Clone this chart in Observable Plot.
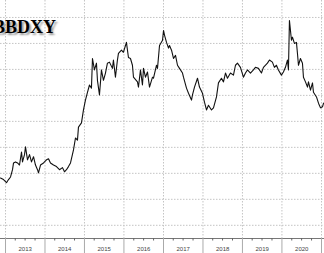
<!DOCTYPE html>
<html><head><meta charset="utf-8">
<script src="https://cdn.jsdelivr.net/npm/d3@7"></script>
<script src="https://cdn.jsdelivr.net/npm/@observablehq/plot@0.6"></script>
<style>
html,body{margin:0;padding:0;background:#fff;overflow:hidden;}
#wrap{position:relative;width:324px;height:253px;}
#title{position:absolute;left:-7px;top:17px;font-family:"Liberation Serif","Times New Roman",serif;font-weight:bold;font-size:18px;color:#000;text-shadow:2px 2px 2px #999;}
</style></head>
<body><div id="wrap"><div id="chart"></div><div id="title">BBDXY</div></div>
<script>
const title = "BBDXY";
const years = [2013,2014,2015,2016,2017,2018,2019,2020];
// decimal-year timestamps
const t = [2012.873,2012.949,2013.025,2013.076,2013.127,2013.177,2013.203,2013.253,2013.304,2013.354,2013.405,2013.430,2013.481,2013.506,2013.557,2013.608,2013.658,2013.709,2013.759,2013.810,2013.835,2013.886,2013.962,2014.038,2014.089,2014.139,2014.215,2014.291,2014.367,2014.443,2014.494,2014.544,2014.595,2014.646,2014.722,2014.772,2014.823,2014.848,2014.924,2014.975,2015.025,2015.076,2015.127,2015.177,2015.203,2015.253,2015.304,2015.329,2015.380,2015.430,2015.481,2015.532,2015.582,2015.633,2015.709,2015.734,2015.785,2015.835,2015.861,2015.937,2015.987,2016.063,2016.114,2016.165,2016.215,2016.241,2016.342,2016.367,2016.418,2016.468,2016.494,2016.544,2016.595,2016.646,2016.722,2016.747,2016.823,2016.848,2016.899,2016.975,2017.000,2017.025,2017.076,2017.127,2017.152,2017.203,2017.253,2017.304,2017.354,2017.405,2017.481,2017.506,2017.582,2017.633,2017.709,2017.734,2017.785,2017.861,2017.911,2017.987,2018.038,2018.089,2018.139,2018.215,2018.266,2018.342,2018.392,2018.468,2018.519,2018.570,2018.620,2018.696,2018.772,2018.823,2018.873,2018.949,2019.025,2019.076,2019.127,2019.203,2019.278,2019.329,2019.405,2019.481,2019.532,2019.633,2019.684,2019.759,2019.810,2019.861,2019.911,2019.987,2020.038,2020.089,2020.139,2020.165,2020.190,2020.241,2020.266,2020.316,2020.367,2020.392,2020.418,2020.468,2020.519,2020.544,2020.595,2020.646,2020.671,2020.722,2020.772,2020.797,2020.873,2020.924,2020.975,2021.025,2021.051];
const v = [991,988,982,988,993,1007,1020,1022,1020,1016,1041,1022,1036,1051,1026,1036,1022,1032,1016,1007,1001,1016,1020,1026,1028,1020,1016,1013,1007,1011,1003,1007,1013,1020,1045,1068,1064,1089,1097,1122,1141,1156,1170,1164,1221,1199,1212,1179,1151,1199,1179,1193,1212,1214,1202,1218,1185,1218,1231,1237,1233,1252,1223,1221,1208,1185,1176,1166,1199,1170,1202,1185,1195,1166,1185,1183,1208,1202,1246,1256,1275,1266,1252,1241,1246,1237,1221,1227,1208,1202,1193,1185,1164,1154,1141,1151,1166,1183,1166,1154,1137,1122,1131,1122,1126,1147,1174,1183,1176,1193,1183,1193,1189,1208,1212,1204,1185,1193,1199,1193,1199,1204,1202,1193,1204,1212,1218,1214,1204,1208,1199,1189,1195,1204,1218,1199,1294,1256,1262,1250,1252,1231,1208,1221,1212,1185,1176,1166,1176,1160,1174,1156,1147,1135,1126,1128,1135];
const gridValues = [900,950,1000,1050,1100,1150,1200,1250,1300];

const toDate = d => { const y = Math.floor(d); const s = Date.UTC(y,0,1), e = Date.UTC(y+1,0,1); return new Date(s + (d-y)*(e-s)); };
const data = t.map((d,i) => ({date: toDate(d), value: v[i]}));
const yearStarts = years.map(y => new Date(Date.UTC(y,0,1))).concat([new Date(Date.UTC(2021,0,1))]);
const mids = years.map(y => new Date(Date.UTC(y,6,2)));
const quarters = [];
for (const y of years.concat([2021])) for (const m of [3,6,9]) quarters.push(new Date(Date.UTC(y,m,1)));

const chart = Plot.plot({
  width: 324, height: 253,
  marginLeft: 0, marginRight: 0, marginTop: 0, marginBottom: 15,
  style: {background: "#fff", fontFamily: "Liberation Sans, Arial, sans-serif"},
  x: {type: "utc", domain: [toDate(2012.873), toDate(2021.076)]},
  y: {domain: [874.6, 1332.6], axis: null},
  marks: [
    Plot.ruleY(gridValues, {stroke: "#c4c4c4", strokeWidth: 1, strokeDasharray: "1.5,1.5"}),
    Plot.ruleX(yearStarts, {stroke: "#c4c4c4", strokeWidth: 1, strokeDasharray: "1.5,1.5"}),
    Plot.line(data, {x: "date", y: "value", stroke: "#111", strokeWidth: 1.1}),
    Plot.ruleY([874.6], {stroke: "#777", strokeWidth: 1}),
    Plot.axisX(yearStarts, {tickSize: 15, tickFormat: () => "", stroke: "#aaa"}),
    Plot.axisX(quarters.filter(q => q < toDate(2021.076)), {tickSize: 2.5, tickFormat: () => "", stroke: "#666"}),
    Plot.axisX(mids, {tickSize: 0, tickPadding: 8, tickFormat: d => String(d.getUTCFullYear()), fontSize: 6, fill: "#444"})
  ]
});
document.getElementById("chart").appendChild(chart);
</script></body></html>
